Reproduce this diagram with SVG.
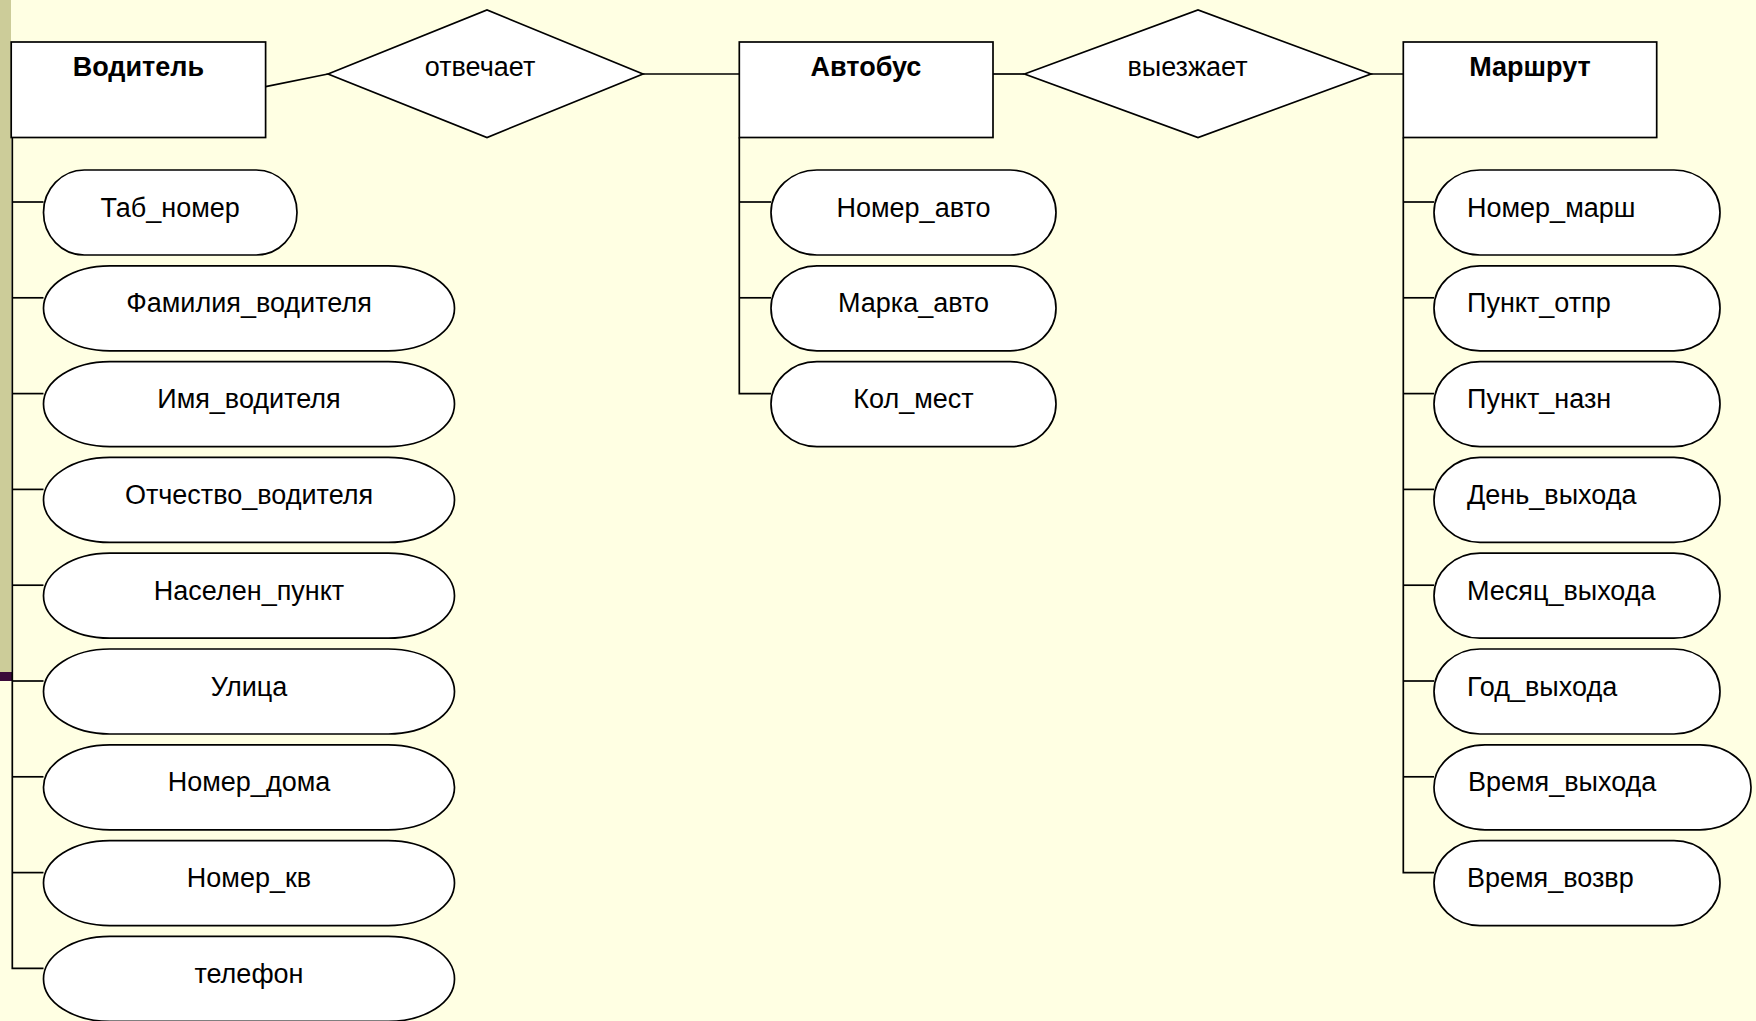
<svg xmlns="http://www.w3.org/2000/svg" width="1756" height="1021" viewBox="0 0 1756 1021">
<style>
.sh{fill:#FFFFFF;stroke:#000000;stroke-width:1.7}
.ln{fill:none;stroke:#000000;stroke-width:1.7}
.t{font-family:"Liberation Sans",Arial,sans-serif;font-size:27px;fill:#000000}
.b{font-weight:bold;text-anchor:middle}
.c{text-anchor:middle}
</style>
<rect x="0" y="0" width="1756" height="1021" fill="#FFFFE3"/>
<rect x="0" y="0" width="11" height="672" fill="#CCCC99"/>
<rect x="0" y="672" width="12" height="9" fill="#3A0A3A"/>
<g id="connectors">
<line class="ln" x1="265.6" y1="86.7" x2="328" y2="74"/>
<line class="ln" x1="643" y1="74" x2="739.3" y2="74"/>
<line class="ln" x1="993" y1="74" x2="1024.5" y2="74"/>
<line class="ln" x1="1371" y1="74" x2="1403.3" y2="74"/>
<polyline class="ln" points="12.3,137.5 12.3,968.4 43.5,968.4"/>
<line class="ln" x1="12.3" y1="202" x2="43.5" y2="202"/>
<line class="ln" x1="12.3" y1="297.8" x2="43.5" y2="297.8"/>
<line class="ln" x1="12.3" y1="393.6" x2="43.5" y2="393.6"/>
<line class="ln" x1="12.3" y1="489.4" x2="43.5" y2="489.4"/>
<line class="ln" x1="12.3" y1="585.2" x2="43.5" y2="585.2"/>
<line class="ln" x1="12.3" y1="681" x2="43.5" y2="681"/>
<line class="ln" x1="12.3" y1="776.8" x2="43.5" y2="776.8"/>
<line class="ln" x1="12.3" y1="872.6" x2="43.5" y2="872.6"/>
<polyline class="ln" points="739.3,137.5 739.3,393.6 771,393.6"/>
<line class="ln" x1="739.3" y1="202" x2="771" y2="202"/>
<line class="ln" x1="739.3" y1="297.8" x2="771" y2="297.8"/>
<polyline class="ln" points="1403.3,137.5 1403.3,872.6 1434,872.6"/>
<line class="ln" x1="1403.3" y1="202" x2="1434" y2="202"/>
<line class="ln" x1="1403.3" y1="297.8" x2="1434" y2="297.8"/>
<line class="ln" x1="1403.3" y1="393.6" x2="1434" y2="393.6"/>
<line class="ln" x1="1403.3" y1="489.4" x2="1434" y2="489.4"/>
<line class="ln" x1="1403.3" y1="585.2" x2="1434" y2="585.2"/>
<line class="ln" x1="1403.3" y1="681" x2="1434" y2="681"/>
<line class="ln" x1="1403.3" y1="776.8" x2="1434" y2="776.8"/>
</g>
<g id="entity-voditel"><rect class="sh" x="11.2" y="42" width="254.4" height="95.5"/><text class="t b" x="138.4" y="76">Водитель</text></g>
<g id="rel-otvechaet"><polygon class="sh" points="328,74 487,10 643,74 487,137.5"/><text class="t c" x="480" y="76">отвечает</text></g>
<g id="entity-avtobus"><rect class="sh" x="739.3" y="42" width="253.7" height="95.5"/><text class="t b" x="866" y="76">Автобус</text></g>
<g id="rel-vyezzhaet"><polygon class="sh" points="1024.5,74 1198,10 1371,74 1198,137.5"/><text class="t c" x="1187.5" y="76">выезжает</text></g>
<g id="entity-marshrut"><rect class="sh" x="1403.3" y="42" width="253.4" height="95.5"/><text class="t b" x="1530" y="76">Маршрут</text></g>

<g id="attr-tab-nomer"><rect class="sh" x="43.5" y="170" width="253.5" height="85" rx="40.8" ry="42.5"/><text class="t c" x="170.2" y="216.5">Таб_номер</text></g>
<g id="attr-familiya"><rect class="sh" x="43.5" y="265.8" width="411" height="85" rx="66.2" ry="42.5"/><text class="t c" x="249" y="312.3">Фамилия_водителя</text></g>
<g id="attr-imya"><rect class="sh" x="43.5" y="361.6" width="411" height="85" rx="66.2" ry="42.5"/><text class="t c" x="249" y="408.1">Имя_водителя</text></g>
<g id="attr-otchestvo"><rect class="sh" x="43.5" y="457.4" width="411" height="85" rx="66.2" ry="42.5"/><text class="t c" x="249" y="503.9">Отчество_водителя</text></g>
<g id="attr-nas-punkt"><rect class="sh" x="43.5" y="553.2" width="411" height="85" rx="66.2" ry="42.5"/><text class="t c" x="249" y="599.7">Населен_пункт</text></g>
<g id="attr-ulica"><rect class="sh" x="43.5" y="649" width="411" height="85" rx="66.2" ry="42.5"/><text class="t c" x="249" y="695.5">Улица</text></g>
<g id="attr-nomer-doma"><rect class="sh" x="43.5" y="744.8" width="411" height="85" rx="66.2" ry="42.5"/><text class="t c" x="249" y="791.3">Номер_дома</text></g>
<g id="attr-nomer-kv"><rect class="sh" x="43.5" y="840.6" width="411" height="85" rx="66.2" ry="42.5"/><text class="t c" x="249" y="887.1">Номер_кв</text></g>
<g id="attr-telefon"><rect class="sh" x="43.5" y="936.4" width="411" height="85" rx="66.2" ry="42.5"/><text class="t c" x="249" y="982.9">телефон</text></g>

<g id="attr-nomer-avto"><rect class="sh" x="771" y="170" width="285" height="85" rx="45.9" ry="42.5"/><text class="t c" x="913.5" y="216.5">Номер_авто</text></g>
<g id="attr-marka-avto"><rect class="sh" x="771" y="265.8" width="285" height="85" rx="45.9" ry="42.5"/><text class="t c" x="913.5" y="312.3">Марка_авто</text></g>
<g id="attr-kol-mest"><rect class="sh" x="771" y="361.6" width="285" height="85" rx="45.9" ry="42.5"/><text class="t c" x="913.5" y="408.1">Кол_мест</text></g>

<g id="attr-nomer-marsh"><rect class="sh" x="1434" y="170" width="286" height="85" rx="46" ry="42.5"/><text class="t" x="1467" y="216.5">Номер_марш</text></g>
<g id="attr-punkt-otpr"><rect class="sh" x="1434" y="265.8" width="286" height="85" rx="46" ry="42.5"/><text class="t" x="1467" y="312.3">Пункт_отпр</text></g>
<g id="attr-punkt-nazn"><rect class="sh" x="1434" y="361.6" width="286" height="85" rx="46" ry="42.5"/><text class="t" x="1467" y="408.1">Пункт_назн</text></g>
<g id="attr-den"><rect class="sh" x="1434" y="457.4" width="286" height="85" rx="46" ry="42.5"/><text class="t" x="1467" y="503.9">День_выхода</text></g>
<g id="attr-mesyac"><rect class="sh" x="1434" y="553.2" width="286" height="85" rx="46" ry="42.5"/><text class="t" x="1467" y="599.7">Месяц_выхода</text></g>
<g id="attr-god"><rect class="sh" x="1434" y="649" width="286" height="85" rx="46" ry="42.5"/><text class="t" x="1467" y="695.5">Год_выхода</text></g>
<g id="attr-vremya-vyhoda"><rect class="sh" x="1434" y="744.8" width="317" height="85" rx="51" ry="42.5"/><text class="t" x="1468" y="791.3">Время_выхода</text></g>
<g id="attr-vremya-vozvr"><rect class="sh" x="1434" y="840.6" width="286" height="85" rx="46" ry="42.5"/><text class="t" x="1467" y="887.1">Время_возвр</text></g>
</svg>
